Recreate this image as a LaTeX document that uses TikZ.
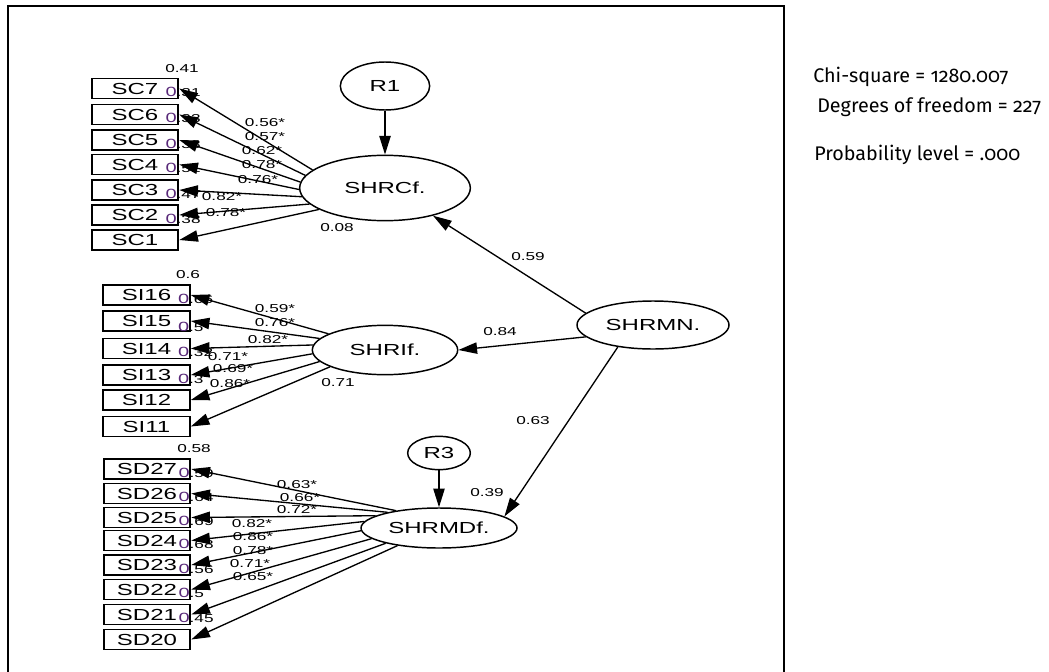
\documentclass[tikz,border=0pt]{standalone}
\usepackage{fontspec}
\setmainfont[FakeStretch=1.5]{Liberation Sans}
\newfontfamily\statfont[Numbers=OldStyle]{Fira Sans}
\usetikzlibrary{arrows.meta,shapes.geometric,calc}
\definecolor{errcol}{RGB}{88,40,120}
\tikzset{
  ind/.style={draw,line width=1.4pt,minimum width=65pt,minimum height=15pt,inner sep=0pt,font=\fontsize{12}{14}\selectfont},
  lat/.style={draw,ellipse,line width=1.1pt,inner sep=0pt,font=\fontsize{12}{14}\selectfont},
  coef/.style={font=\fontsize{8.6}{10}\selectfont,inner sep=0pt},
  errlab/.style={coef,anchor=base west},
  loadarr/.style={-{Triangle[length=14pt,width=8.5pt]},line width=1pt},
  stat/.style={anchor=west,inner sep=0pt,font=\statfont\fontsize{14.8}{17}\selectfont}
}
\newcommand{\ez}[1]{\textcolor{errcol}{\fontsize{10}{12}\selectfont 0}#1}
\begin{document}
\begin{tikzpicture}[x=0.75pt,y=-0.75pt]
  \useasboundingbox (0,0) rectangle (1049,671);
  \begin{scope}
    \clip (0,0) rectangle (1049,671);
    \draw[line width=1.4pt] (8,6) rectangle (784,700);
  \end{scope}

  % latent variables
  \node[lat,minimum width=67pt,minimum height=36pt] (R1) at (385,86) {R1};
  \node[lat,minimum width=128pt,minimum height=49pt] (SHRCf) at (385,188) {SHRCf.};
  \node[lat,minimum width=109pt,minimum height=37pt] (SHRIf) at (385,350) {SHRIf.};
  \node[lat,minimum width=114pt,minimum height=36pt] (SHRMN) at (653,325) {SHRMN.};
  \node[lat,minimum width=47pt,minimum height=25pt] (R3) at (439,453) {R3};
  \node[lat,minimum width=117pt,minimum height=30pt] (SHRMDf) at (439,528) {SHRMDf.};

  % indicators
  \node[ind] (SC7) at (135,88.5) {SC7};
  \node[ind] (SC6) at (135,114.5) {SC6};
  \node[ind] (SC5) at (135,140) {SC5};
  \node[ind] (SC4) at (135,164.5) {SC4};
  \node[ind] (SC3) at (135,190) {SC3};
  \node[ind] (SC2) at (135,215) {SC2};
  \node[ind] (SC1) at (135,240) {SC1};

  \node[ind] (SI16) at (146.5,295) {SI16};
  \node[ind] (SI15) at (146.5,321) {SI15};
  \node[ind] (SI14) at (146.5,348.5) {SI14};
  \node[ind] (SI13) at (146.5,375) {SI13};
  \node[ind] (SI12) at (146.5,400) {SI12};
  \node[ind] (SI11) at (146.5,426.5) {SI11};

  \node[ind] (SD27) at (147,469) {SD27};
  \node[ind] (SD26) at (147,493.5) {SD26};
  \node[ind] (SD25) at (147,517.5) {SD25};
  \node[ind] (SD24) at (147,540.5) {SD24};
  \node[ind] (SD23) at (147,565) {SD23};
  \node[ind] (SD22) at (147,589.5) {SD22};
  \node[ind] (SD21) at (147,614.5) {SD21};
  \node[ind] (SD20) at (147,639.5) {SD20};

  % error terms beside the boxes
  \node[errlab] (eSC7) at ($(SC7.east)+(-14,8)$) {\ez{.31}};
  \node[errlab] (eSC6) at ($(SC6.east)+(-14,8)$) {\ez{.33}};
  \node[errlab] (eSC5) at ($(SC5.east)+(-14,8)$) {\ez{.38}};
  \node[errlab] (eSC4) at ($(SC4.east)+(-14,8)$) {\ez{.51}};
  \node[errlab] (eSC3) at ($(SC3.east)+(-14,8)$) {\ez{.47}};
  \node[errlab] (eSC2) at ($(SC2.east)+(-14,8)$) {\ez{.38}};
  \node[errlab] (eSI16) at ($(SI16.east)+(-13,8)$) {\ez{.66}};
  \node[errlab] (eSI15) at ($(SI15.east)+(-13,10)$) {\ez{.5}};
  \node[errlab] (eSI14) at ($(SI14.east)+(-13,8)$) {\ez{.32}};
  \node[errlab] (eSI13) at ($(SI13.east)+(-13,8)$) {\ez{.3}};
  \node[errlab] (eSD27) at ($(SD27.east)+(-13,8)$) {\ez{.59}};
  \node[errlab] (eSD26) at ($(SD26.east)+(-13,8)$) {\ez{.64}};
  \node[errlab] (eSD25) at ($(SD25.east)+(-13,8)$) {\ez{.69}};
  \node[errlab] (eSD24) at ($(SD24.east)+(-13,8)$) {\ez{.68}};
  \node[errlab] (eSD23) at ($(SD23.east)+(-13,8)$) {\ez{.56}};
  \node[errlab] (eSD22) at ($(SD22.east)+(-13,8)$) {\ez{.5}};
  \node[errlab] (eSD21) at ($(SD21.east)+(-13,8)$) {\ez{.45}};

  % variances and loadings
  \node[coef] (vSC) at (182,69) {0.41};
  \node[coef] (vSI) at (188,275) {0.6};
  \node[coef] (vSD) at (194,449) {0.58};
  \node[coef] (vCf) at (337,228) {0.08};
  \node[coef] (vIf) at (338,383) {0.71};
  \node[coef] (vDf) at (487,493) {0.39};
  \node[coef] (lSC7) at (265,123) {0.56*};
  \node[coef] (lSC6) at (265,137) {0.57*};
  \node[coef] (lSC5) at (262,151) {0.62*};
  \node[coef] (lSC4) at (262,165) {0.78*};
  \node[coef] (lSC3) at (258,180) {0.76*};
  \node[coef] (lSC2) at (222,197) {0.82*};
  \node[coef] (lSC1) at (226,213) {0.78*};
  \node[coef] (lSI16) at (275,309) {0.59*};
  \node[coef] (lSI15) at (275,323) {0.76*};
  \node[coef] (lSI14) at (268,340) {0.82*};
  \node[coef] (lSI13) at (228,357) {0.71*};
  \node[coef] (lSI12) at (233,369) {0.69*};
  \node[coef] (lSI11) at (230,384) {0.86*};
  \node[coef] (lSD27) at (297,485) {0.63*};
  \node[coef] (lSD26) at (300,498) {0.66*};
  \node[coef] (lSD25) at (297,510) {0.72*};
  \node[coef] (lSD24) at (252,524) {0.82*};
  \node[coef] (lSD23) at (253,537) {0.86*};
  \node[coef] (lSD22) at (253,551) {0.78*};
  \node[coef] (lSD21) at (250,564) {0.71*};
  \node[coef] (lSD20) at (253,577) {0.65*};
  \node[coef] (pCf) at (528,257) {0.59};
  \node[coef] (pIf) at (500,332) {0.84};
  \node[coef] (pDf) at (533,421) {0.63};

  \begin{scope}[loadarr]
    \draw (R1) to (SHRCf);
    \draw (R3) to (SHRMDf);
    \draw (SHRMN.170) to (SHRCf.-30);
    \draw (SHRMN.190) to (SHRIf.east);
    \draw (SHRMN.212) to (SHRMDf.10);
    \draw (SHRCf.166) to (SC7.east);
    \draw (SHRCf.171) to (SC6.east);
    \draw (SHRCf.176) to (SC5.east);
    \draw (SHRCf.181) to (SC4.east);
    \draw (SHRCf.186) to (SC3.east);
    \draw (SHRCf.192) to (SC2.east);
    \draw (SHRCf.198) to (SC1.east);
    \draw (SHRIf.164) to (SI16.east);
    \draw (SHRIf.170) to (SI15.east);
    \draw (SHRIf.176) to (SI14.east);
    \draw (SHRIf.183) to (SI13.east);
    \draw (SHRIf.190) to (SI12.east);
    \draw (SHRIf.197) to (SI11.east);
    \draw (SHRMDf.158) to (SD27.east);
    \draw (SHRMDf.163) to (SD26.east);
    \draw (SHRMDf.169) to (SD25.east);
    \draw (SHRMDf.175) to (SD24.east);
    \draw (SHRMDf.182) to (SD23.east);
    \draw (SHRMDf.189) to (SD22.east);
    \draw (SHRMDf.196) to (SD21.east);
    \draw (SHRMDf.203) to (SD20.east);
  \end{scope}

  % fit statistics
  \node[stat] (chi) at (813,77) {Chi-square = 1280.007};
  \node[stat] (dof) at (817,107) {Degrees of freedom = 227};
  \node[stat] (prob) at (814,155) {Probability level = .000};
\end{tikzpicture}
\end{document}
